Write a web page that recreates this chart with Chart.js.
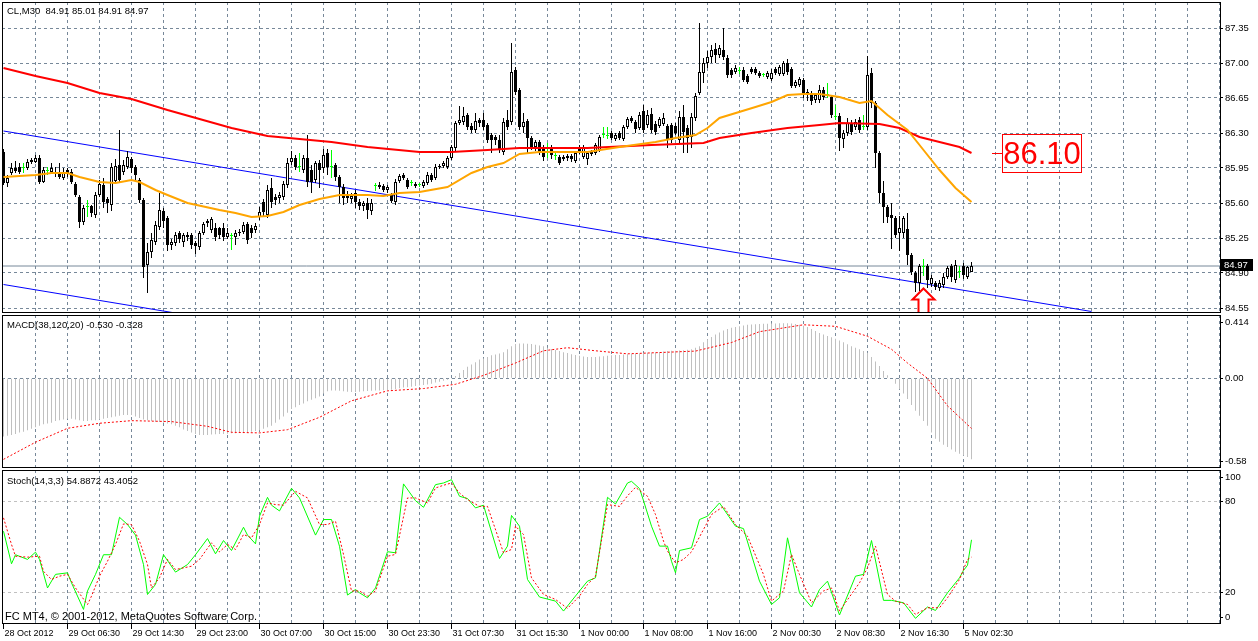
<!DOCTYPE html>
<html><head><meta charset="utf-8"><title>CL,M30</title>
<script src="https://cdn.jsdelivr.net/npm/chart.js@4.4.1/dist/chart.umd.min.js"></script>
<style>
html,body{margin:0;padding:0;background:#fff;}
#wrap{position:relative;width:1258px;height:641px;overflow:hidden;background:#fff;}
canvas{position:absolute;left:0;display:block;}
.lbl{position:absolute;left:7px;font-family:'Liberation Sans',Arial,sans-serif;font-size:9.5px;line-height:11px;color:#000;white-space:pre;z-index:2;}
</style></head><body>
<div id="wrap">
<canvas id="cMain" width="1258" height="313" style="top:0px"></canvas>
<canvas id="cMacd" width="1258" height="155" style="top:313px"></canvas>
<canvas id="cStoch" width="1258" height="173" style="top:468px"></canvas>
<div class="lbl" id="tMain" style="top:5px"></div>
<div class="lbl" id="tMacd" style="top:319px"></div>
<div class="lbl" id="tStoch" style="top:475px"></div>
<div class="lbl" id="tCopy" style="top:610px;left:5px;font-size:11px;line-height:13px"></div>
</div>
<script>
// ---------------- DATA (CL, M30) ----------------
const opens = [
86.11,85.80,85.90,85.95,85.96,85.95,85.95,86.01,86.01,86.05,
85.81,85.92,85.91,85.91,85.91,85.85,85.93,85.91,85.79,85.66,
85.41,85.56,85.57,85.48,85.68,85.78,85.64,85.58,85.82,85.98,
85.91,85.96,86.04,85.96,85.83,85.63,84.98,85.11,85.21,85.36,
85.52,85.45,85.18,85.20,85.30,85.21,85.28,85.28,85.20,85.16,
85.30,85.40,85.33,85.35,85.35,85.35,85.26,85.27,85.26,85.30,
85.31,85.39,85.35,85.33,85.46,85.61,85.48,85.75,85.66,85.65,
85.66,85.78,86.01,86.05,85.96,85.93,86.05,85.93,85.83,86.00,
85.95,86.10,85.96,85.98,85.86,85.76,85.68,85.64,85.70,85.61,
85.57,85.60,85.52,85.77,85.76,85.77,85.73,85.68,85.61,85.82,
85.88,85.83,85.80,85.79,85.78,85.77,85.80,85.88,85.85,85.96,
85.97,85.96,86.05,86.15,86.40,86.41,86.48,86.37,86.33,86.43,
86.43,86.38,86.28,86.26,86.23,86.11,86.43,86.41,86.93,86.73,
86.36,86.42,86.25,86.16,86.21,86.16,86.15,86.16,86.07,86.06,
86.04,86.07,86.07,86.02,86.16,86.06,86.04,86.09,86.10,86.13,
86.28,86.27,86.30,86.24,86.30,86.24,86.36,86.45,86.41,86.35,
86.52,86.38,86.49,86.39,86.37,86.39,86.37,86.38,86.37,86.23,
86.46,86.35,86.26,86.45,86.70,86.90,87.00,87.06,87.14,87.08,
87.13,87.05,86.93,86.91,86.92,86.93,86.87,86.94,86.94,86.90,
86.88,86.86,86.84,86.94,86.89,86.89,87.00,86.94,86.77,86.78,
86.83,86.71,86.68,86.63,86.63,86.73,86.68,86.66,86.46,86.47,
86.24,86.30,86.40,86.36,86.43,86.36,86.36,86.90,86.60,86.10,
85.70,85.56,85.48,85.45,85.30,85.30,85.34,85.08,84.90,84.80,
84.96,84.97,84.79,84.80,84.75,84.78,84.86,84.97,84.83,84.91,
84.97,84.86,84.91];
const highs = [
86.14,85.88,86.00,86.02,86.00,86.00,86.04,86.05,86.08,86.08,
85.96,85.96,86.00,85.96,86.00,85.95,85.95,85.94,85.81,85.68,
85.58,85.63,85.58,85.71,85.83,85.85,85.66,86.00,86.04,86.33,
86.03,86.12,86.06,85.98,85.85,85.65,85.20,85.30,85.42,85.70,
85.55,85.47,85.24,85.31,85.32,85.30,85.31,85.30,85.22,85.32,
85.41,85.44,85.46,85.40,85.36,85.40,85.35,85.30,85.33,85.34,
85.41,85.41,85.38,85.40,85.56,85.64,85.78,85.85,85.69,85.71,
85.82,86.05,86.12,86.08,86.10,86.08,86.28,85.98,86.02,86.03,
86.14,86.14,86.13,86.00,85.88,85.79,85.72,85.70,85.73,85.64,
85.62,85.65,85.64,85.80,85.81,85.79,85.78,85.70,85.84,85.89,
85.90,85.85,85.83,85.81,85.80,85.83,85.91,85.90,85.99,85.99,
86.02,86.07,86.18,86.42,86.57,86.56,86.50,86.40,86.50,86.45,
86.50,86.40,86.30,86.28,86.28,86.45,86.53,87.20,86.96,86.75,
86.50,86.44,86.27,86.23,86.23,86.18,86.20,86.18,86.10,86.08,
86.08,86.09,86.09,86.12,86.18,86.18,86.12,86.13,86.20,86.28,
86.36,86.36,86.32,86.30,86.32,86.38,86.46,86.47,86.43,86.51,
86.58,86.53,86.55,86.42,86.46,86.50,86.39,86.40,86.40,86.52,
86.58,86.38,86.50,86.70,87.40,87.05,87.12,87.18,87.20,87.18,
87.35,87.08,86.95,86.98,86.96,86.96,86.89,86.96,86.96,86.92,
86.90,86.92,86.94,86.96,86.98,87.02,87.04,86.96,86.83,86.86,
86.85,86.74,86.72,86.70,86.78,86.76,86.80,86.68,86.58,86.50,
86.33,86.45,86.43,86.44,86.46,86.48,87.07,86.95,86.62,86.12,
85.82,85.58,85.60,85.47,85.47,85.47,85.50,85.10,84.92,84.99,
85.04,84.99,84.88,84.82,84.83,84.90,84.97,84.99,85.03,84.97,
85.00,84.97,85.01];
const lows = [
85.78,85.76,85.88,85.90,85.89,85.90,85.93,85.99,86.00,85.79,
85.80,85.88,85.89,85.86,85.84,85.83,85.86,85.79,85.66,85.35,
85.38,85.46,85.46,85.45,85.66,85.55,85.50,85.52,85.80,85.80,
85.88,85.94,85.90,85.83,85.60,84.85,84.70,85.05,85.18,85.33,
85.35,85.12,85.13,85.17,85.20,85.16,85.22,85.14,85.09,85.13,
85.28,85.36,85.30,85.22,85.24,85.22,85.24,85.13,85.18,85.27,
85.29,85.19,85.25,85.30,85.43,85.46,85.45,85.55,85.58,85.60,
85.63,85.75,85.98,85.93,85.91,85.90,85.76,85.70,85.80,85.75,
85.90,85.88,85.85,85.82,85.60,85.58,85.60,85.60,85.55,85.53,
85.52,85.44,85.48,85.72,85.74,85.71,85.70,85.60,85.58,85.80,
85.83,85.74,85.77,85.75,85.76,85.75,85.78,85.81,85.83,85.94,
85.95,85.94,86.03,86.12,86.38,86.38,86.33,86.30,86.30,86.36,
86.33,86.20,86.10,86.18,86.10,86.08,86.33,86.38,86.68,86.33,
86.30,86.10,86.13,86.12,86.08,86.02,86.05,86.04,86.03,85.98,
86.02,86.02,86.01,86.00,86.09,86.04,85.98,86.07,86.08,86.11,
86.25,86.24,86.23,86.22,86.23,86.22,86.34,86.40,86.30,86.33,
86.30,86.35,86.30,86.28,86.35,86.37,86.15,86.20,86.28,86.20,
86.10,86.10,86.15,86.42,86.68,86.80,86.95,87.00,87.00,87.05,
87.03,86.85,86.85,86.89,86.89,86.81,86.79,86.89,86.88,86.85,
86.86,86.84,86.82,86.88,86.87,86.87,86.88,86.75,86.75,86.76,
86.65,86.62,86.58,86.60,86.60,86.63,86.65,86.45,86.43,86.12,
86.15,86.27,86.28,86.33,86.30,86.33,86.33,86.55,85.95,85.60,
85.40,85.40,85.14,85.25,85.12,85.25,84.98,84.88,84.71,84.72,
84.87,84.75,84.76,84.73,84.72,84.75,84.84,84.81,84.80,84.85,
84.84,84.84,84.91];
const closes = [
85.80,85.85,85.95,85.92,85.91,85.95,86.01,86.03,86.05,85.81,
85.93,85.92,85.95,85.90,85.86,85.91,85.90,85.81,85.68,85.41,
85.55,85.56,85.50,85.68,85.79,85.61,85.60,85.96,85.97,85.83,
85.98,86.06,85.95,85.88,85.63,84.96,85.11,85.23,85.38,85.53,
85.42,85.18,85.21,85.28,85.24,85.28,85.26,85.18,85.17,85.30,
85.39,85.42,85.44,85.26,85.28,85.26,85.30,85.27,85.30,85.31,
85.38,85.23,85.30,85.37,85.51,85.51,85.73,85.61,85.63,85.68,
85.79,86.00,86.05,85.96,85.96,86.05,85.81,85.81,86.00,85.93,
86.08,85.96,85.96,85.86,85.76,85.65,85.65,85.67,85.61,85.57,
85.60,85.53,85.60,85.77,85.78,85.73,85.76,85.62,85.81,85.87,
85.85,85.76,85.80,85.77,85.78,85.81,85.88,85.83,85.96,85.97,
86.00,86.05,86.16,86.40,86.43,86.47,86.36,86.33,86.42,86.40,
86.36,86.23,86.23,86.23,86.13,86.41,86.36,86.91,86.71,86.36,
86.41,86.25,86.16,86.21,86.11,86.06,86.15,86.08,86.07,86.00,
86.06,86.05,86.04,86.10,86.11,86.16,86.10,86.11,86.18,86.26,
86.28,86.27,86.25,86.28,86.25,86.36,86.44,86.42,86.34,86.48,
86.33,86.48,86.33,86.31,86.44,86.45,86.23,86.23,86.30,86.46,
86.31,86.25,86.46,86.67,86.91,87.00,87.06,87.13,87.08,87.15,
87.06,86.88,86.88,86.95,86.92,86.83,86.81,86.91,86.90,86.87,
86.88,86.90,86.90,86.90,86.96,87.00,86.91,86.77,86.81,86.84,
86.70,86.68,86.62,86.68,86.73,86.66,86.68,86.48,86.46,86.25,
86.30,86.40,86.31,86.41,86.33,86.36,86.88,86.60,86.10,85.70,
85.56,85.46,85.45,85.28,85.35,85.45,85.08,84.91,84.80,84.97,
84.96,84.83,84.85,84.76,84.80,84.86,84.95,84.86,84.98,84.91,
84.88,84.96,84.97];

// moving averages: [bar, price]
const maRed = [[0,86.95],[8,86.87],[16,86.80],[24,86.70],[32,86.64],[41,86.53],[49,86.44],[57,86.35],[66,86.27],[74,86.24],[82,86.21],[91,86.16],[104,86.11],[112,86.11],[121,86.13],[129,86.15],[146,86.15],[162,86.18],[175,86.20],[179,86.25],[187,86.30],[196,86.35],[204,86.38],[209,86.40],[219,86.39],[224,86.35],[229,86.26],[234,86.21],[239,86.16],[242,86.10]];
const maOrange = [[0,85.86],[8,85.88],[12,85.90],[16,85.90],[19,85.86],[24,85.81],[28,85.80],[32,85.83],[34,85.81],[38,85.73],[41,85.68],[46,85.60],[54,85.53],[58,85.50],[62,85.46],[66,85.47],[70,85.51],[74,85.58],[79,85.64],[84,85.68],[91,85.68],[95,85.67],[99,85.70],[104,85.71],[111,85.76],[117,85.90],[121,85.96],[125,86.00],[129,86.09],[134,86.11],[146,86.11],[154,86.16],[163,86.21],[168,86.25],[173,86.28],[176,86.35],[179,86.45],[188,86.56],[192,86.61],[196,86.68],[200,86.69],[204,86.69],[209,86.66],[214,86.60],[217,86.62],[221,86.48],[226,86.33],[230,86.13],[234,85.93],[238,85.75],[242,85.61]];
// channel trend lines: [bar, price]
const trendUpper = [[0,86.32],[272,84.515]];
const trendLower = [[0,84.785],[272,82.98]];

// MACD(38,120,20)
const macdHist = [
-0.38,-0.375,-0.37,-0.365,-0.355,-0.35,-0.34,-0.33,-0.32,-0.31,
-0.30,-0.295,-0.29,-0.28,-0.275,-0.27,-0.265,-0.265,-0.27,-0.275,
-0.28,-0.28,-0.275,-0.275,-0.27,-0.265,-0.26,-0.255,-0.25,-0.245,
-0.24,-0.24,-0.24,-0.25,-0.26,-0.27,-0.275,-0.28,-0.285,-0.285,
-0.29,-0.295,-0.30,-0.31,-0.32,-0.335,-0.345,-0.355,-0.365,-0.37,
-0.37,-0.37,-0.368,-0.366,-0.365,-0.364,-0.362,-0.36,-0.36,-0.358,
-0.357,-0.355,-0.35,-0.345,-0.34,-0.33,-0.32,-0.31,-0.29,-0.27,
-0.25,-0.225,-0.2,-0.19,-0.175,-0.165,-0.15,-0.14,-0.13,-0.119,
-0.1,-0.085,-0.08,-0.08,-0.082,-0.085,-0.088,-0.09,-0.09,-0.088,
-0.085,-0.083,-0.082,-0.08,-0.079,-0.078,-0.078,-0.075,-0.07,-0.065,
-0.06,-0.058,-0.055,-0.05,-0.047,-0.044,-0.04,-0.035,-0.028,-0.022,
-0.016,-0.01,-0.004,0.015,0.035,0.055,0.075,0.09,0.105,0.123,
0.13,0.14,0.15,0.155,0.162,0.17,0.19,0.21,0.225,0.228,
0.228,0.226,0.224,0.22,0.215,0.21,0.2,0.192,0.185,0.178,
0.17,0.165,0.158,0.152,0.147,0.143,0.14,0.14,0.14,0.142,
0.145,0.147,0.15,0.152,0.153,0.155,0.157,0.16,0.162,0.163,
0.165,0.167,0.168,0.17,0.172,0.175,0.178,0.18,0.18,0.182,
0.184,0.186,0.19,0.2,0.21,0.235,0.255,0.27,0.286,0.3,
0.312,0.322,0.33,0.336,0.341,0.346,0.35,0.352,0.354,0.355,
0.356,0.357,0.358,0.359,0.36,0.36,0.36,0.358,0.355,0.35,
0.344,0.335,0.322,0.31,0.297,0.287,0.277,0.268,0.258,0.247,
0.235,0.222,0.21,0.2,0.19,0.178,0.167,0.14,0.11,0.08,
0.047,0.02,0.0,-0.035,-0.071,-0.1,-0.136,-0.175,-0.212,-0.245,
-0.28,-0.31,-0.355,-0.396,-0.415,-0.435,-0.45,-0.465,-0.48,-0.494,
-0.505,-0.515,-0.530];
const macdSignal = [[0,-0.53],[8,-0.418],[16,-0.327],[24,-0.294],[32,-0.277],[42,-0.283],[51,-0.314],[57,-0.353],[64,-0.357],[71,-0.336],[79,-0.255],[87,-0.147],[96,-0.082],[105,-0.067],[113,-0.039],[120,0.019],[128,0.1],[135,0.18],[141,0.2],[148,0.18],[156,0.16],[173,0.178],[182,0.234],[189,0.305],[200,0.35],[208,0.34],[216,0.275],[222,0.19],[226,0.1],[231,0],[236,-0.18],[242,-0.328]];

// Stochastic(14,3,3): [bar, value]
const stochMain = [[0,60.6],[2,39],[3,45],[6,41.9],[8,46.7],[9,41.9],[11,23],[13,32],[16,33],[17,26.4],[20,8.8],[21,21],[23,32],[25,45],[27,45],[29,69.8],[31,65],[33,58],[35,38.5],[36,18.7],[38,25.3],[40,45],[43,33.5],[46,38.5],[48,45],[51,55.7],[53,45.6],[55,54.4],[57,47.8],[60,63.2],[61,58],[63,52.2],[64,70.5],[66,83],[67,77.8],[69,74],[72,89],[74,82.6],[78,58],[80,68.3],[82,68.3],[84,50.6],[86,18.3],[88,22],[89,19.8],[91,16.5],[93,23],[96,47],[98,46.3],[100,91.9],[103,80.8],[105,76.4],[108,91.4],[110,92.5],[112,94.7],[114,83.7],[116,82.2],[118,76],[120,77.8],[124,42.5],[126,50.7],[127,71],[129,63.9],[131,28.6],[134,17],[138,14.3],[140,7.7],[144,21],[146,27.5],[148,29.7],[151,83],[153,78.6],[156,92.5],[157,93.6],[159,88.8],[160,80.8],[162,63.9],[164,50.7],[166,50.7],[167,40.7],[168,33],[169,47.8],[172,49.6],[174,68.3],[176,70.5],[179,79.3],[183,63.9],[185,62.3],[189,27.5],[192,12.1],[194,16.5],[196,56.2],[199,19.8],[202,10.4],[204,22],[206,27.5],[209,5.1],[213,30.8],[215,32],[217,54.4],[220,14.8],[222,14.8],[225,13.2],[228,2.9],[231,10.4],[233,8.1],[236,19.8],[239,29.7],[240,34.6],[241,38],[242,54.8872]];
const stochSignal = [[0,69.4],[2,51.8],[3,44],[6,43.4],[9,44],[10,34],[12,28.6],[14,30.8],[16,32],[18,23],[21,12],[22,17.6],[24,30.8],[26,40.7],[28,51.8],[30,65.4],[32,65],[34,54],[36,38.5],[37,23],[39,29.7],[41,41.9],[43,35.2],[47,37.4],[49,41.9],[52,52.9],[54,46.9],[56,51.8],[58,48.5],[60,58.4],[62,56.2],[64,65],[66,79.3],[68,78.2],[70,77.8],[73,87],[76,82.6],[79,65],[81,65],[83,67.2],[85,45.2],[87,21],[89,21],[91,17.6],[93,21],[96,44],[98,45.2],[101,82.6],[103,82.6],[106,79.3],[108,89.2],[110,91],[112,92.5],[114,85.9],[116,81.5],[119,77],[121,77],[125,46.3],[127,48.5],[128,63.9],[130,58.4],[132,29.7],[135,18.7],[138,15.4],[141,9.5],[144,17.6],[146,25.3],[148,30.8],[151,78.2],[154,77],[156,84],[158,89.6],[161,83.7],[163,71.6],[165,54],[166,47.4],[168,39.6],[170,41.9],[172,46.9],[175,61.7],[177,71.6],[180,77],[183,65],[186,57.3],[190,31.9],[192,14.3],[195,21],[197,45.2],[199,31.9],[202,13.2],[205,21],[207,23],[209,7.7],[214,26.4],[216,36.3],[218,50.7],[221,18.7],[223,14.3],[226,12.1],[228,5.5],[231,9.9],[234,9.9],[236,16.5],[239,28.6],[241,41.9],[242,43.4052]];

// axis ticks and time labels
const priceTicks = [84.55,84.90,85.25,85.60,85.95,86.30,86.65,87.00,87.35];
const timeLabelBars = [0,16,32,48,64,80,96,112,128,144,160,176,192,208,224,240];
const timeLabels = ['28 Oct 2012','29 Oct 06:30','29 Oct 14:30','29 Oct 23:00','30 Oct 07:00','30 Oct 15:00','30 Oct 23:30','31 Oct 07:30','31 Oct 15:30','1 Nov 00:00','1 Nov 08:00','1 Nov 16:00','2 Nov 00:30','2 Nov 08:30','2 Nov 16:30','5 Nov 02:30'];
// annotations
const signalBar = 230, signalPrice = 84.745;      // up arrow
const noteBar = 247.1, notePrice = 86.10;         // price label

// ---------------- RENDERING ----------------
Chart.defaults.font.family = "'Liberation Sans', Arial, sans-serif";
Chart.defaults.color = '#000';
const GRID = '#778899', DASH = [3,3], NONE = 'rgba(0,0,0,0)', DOJI = '#00ff00';
const X_MIN = -0.375, X_MAX = 304.125;
const n = closes.length - 1;
const bars = closes.map((_, i) => i);
const gridBars = []; for (let v = 0; v <= 304; v += 8) gridBars.push(v);
const labelAt = {}; timeLabelBars.forEach((b, k) => labelAt[b] = timeLabels[k]);
const pts = a => a.map(([x, y]) => ({x, y}));

function xAxis(withLabels) {
  return {
    type: 'linear', min: X_MIN, max: X_MAX, offset: false, bounds: 'data',
    afterBuildTicks: s => { s.ticks = gridBars.map(v => ({value: v})); },
    grid: { offset: false, drawOnChartArea: true, lineWidth: 1,
      color: c => (c.tick && c.tick.value === 0) ? NONE : GRID,
      drawTicks: withLabels, tickLength: 6, tickWidth: 1, tickBorderDash: [],
      tickColor: c => (c.tick && labelAt[c.tick.value] !== undefined) ? '#000' : NONE },
    border: { display: false, dash: DASH },
    ticks: { display: withLabels, autoSkip: false, maxRotation: 0, minRotation: 0, align: 'start',
      padding: -1, labelOffset: 1,
      font: { size: 9, family: "'Liberation Sans Narrow', 'Liberation Sans', Arial, sans-serif" }, color: '#000',
      callback: v => labelAt[v] !== undefined ? labelAt[v] : '' },
    afterFit: s => { s.height = withLabels ? 18 : 0; s.paddingLeft = 0; s.paddingRight = 0; }
  };
}
function yAxis(min, max, vals, texts, gridColor) {
  return {
    type: 'linear', position: 'right', min, max, bounds: 'data',
    afterBuildTicks: s => { s.ticks = vals.map(v => ({value: v})); },
    grid: { drawOnChartArea: true, lineWidth: 1, color: c => c.tick ? gridColor(c.index) : NONE,
      drawTicks: true, tickLength: 3, tickWidth: 1, tickColor: '#000', tickBorderDash: [] },
    border: { display: false, dash: DASH },
    ticks: { autoSkip: false, padding: 2, font: { size: 9.5 }, color: '#000', callback: (v, i) => texts[i] },
    afterFit: s => { s.width = 38; s.paddingTop = 0; s.paddingBottom = 0; }
  };
}
function opts(x, y, padBottom) {
  return {
    responsive: false, animation: false, devicePixelRatio: 1, events: [],
    layout: { padding: { left: 2, right: 0, top: 2, bottom: padBottom } },
    plugins: { legend: { display: false }, tooltip: { enabled: false }, title: { display: false } },
    elements: { line: { tension: 0 }, point: { radius: 0 } },
    scales: { x, y }
  };
}
const frame = { id: 'frame', afterDraw(ch) {
  const {ctx, chartArea: a} = ch; ctx.save(); ctx.setLineDash([]); ctx.strokeStyle = '#000'; ctx.lineWidth = 1;
  ctx.strokeRect(a.left + 0.5, a.top + 0.5, a.right - a.left, a.bottom - a.top); ctx.restore(); } };

const bidPrice = closes[n];
const mainOverlay = { id: 'mainOverlay',
  afterDatasetsDraw(ch) {
    const {ctx, chartArea: a, scales: {x, y}} = ch;
    ctx.save();
    ctx.beginPath(); ctx.rect(a.left, a.top, a.right - a.left, a.bottom - a.top); ctx.clip();
    const ax = x.getPixelForValue(signalBar), ay = y.getPixelForValue(signalPrice);
    ctx.beginPath();
    ctx.moveTo(ax, ay); ctx.lineTo(ax + 11, ay + 11); ctx.lineTo(ax + 5, ay + 11); ctx.lineTo(ax + 5, ay + 40);
    ctx.lineTo(ax - 5, ay + 40); ctx.lineTo(ax - 5, ay + 11); ctx.lineTo(ax - 11, ay + 11); ctx.closePath();
    ctx.fillStyle = '#fff'; ctx.fill(); ctx.strokeStyle = '#ff0000'; ctx.lineWidth = 2; ctx.stroke();
    const lx = Math.round(x.getPixelForValue(noteBar)), ly = Math.round(y.getPixelForValue(notePrice)) + 0.5;
    ctx.lineWidth = 1;
    ctx.beginPath(); ctx.moveTo(lx, ly); ctx.lineTo(lx + 10, ly); ctx.stroke();
    ctx.strokeRect(lx + 10.5, ly - 19, 79, 38);
    ctx.fillStyle = '#ff0000'; ctx.font = "31px 'Liberation Sans', Arial, sans-serif";
    ctx.textAlign = 'center'; ctx.textBaseline = 'middle';
    ctx.fillText(notePrice.toFixed(2), lx + 50, ly + 1.5);
    ctx.restore();
  },
  afterDraw(ch) {
    const {ctx, chartArea: a, scales: {y}} = ch;
    const by = Math.round(y.getPixelForValue(bidPrice));
    ctx.save(); ctx.fillStyle = '#000'; ctx.fillRect(a.right + 1, by - 7, 32, 12);
    ctx.fillStyle = '#fff'; ctx.font = "9.5px 'Liberation Sans', Arial, sans-serif";
    ctx.textAlign = 'left'; ctx.textBaseline = 'middle'; ctx.fillText(bidPrice.toFixed(2), a.right + 4, by - 0.5);
    ctx.restore();
  } };

const isDoji = i => opens[i] === closes[i];
new Chart(document.getElementById('cMain'), {
  type: 'bar',
  data: { datasets: [
    { type: 'line', data: [{x: X_MIN, y: bidPrice}, {x: X_MAX, y: bidPrice}], borderColor: GRID, borderWidth: 1, pointRadius: 0, order: 30 },
    { type: 'line', data: pts(trendUpper), borderColor: '#0000ff', borderWidth: 1, pointRadius: 0, order: 25 },
    { type: 'line', data: pts(trendLower), borderColor: '#0000ff', borderWidth: 1, pointRadius: 0, order: 24 },
    { type: 'bar', data: bars.map(i => ({x: i, y: [lows[i], highs[i]]})), barThickness: 1, grouped: false, inflateAmount: 0,
      borderWidth: 0, backgroundColor: c => (c.dataIndex !== undefined && isDoji(c.dataIndex)) ? DOJI : '#000', order: 20 },
    { type: 'bar', data: bars.map(i => ({x: i, y: [opens[i], closes[i]]})), barThickness: 3, grouped: false, inflateAmount: 0,
      borderWidth: 1, borderSkipped: false, minBarLength: 1,
      borderColor: c => (c.dataIndex !== undefined && isDoji(c.dataIndex)) ? DOJI : '#000',
      backgroundColor: c => { const i = c.dataIndex; if (i === undefined) return '#000';
        return opens[i] > closes[i] ? '#000' : (opens[i] < closes[i] ? '#fff' : DOJI); }, order: 19 },
    { type: 'line', data: pts(maRed), borderColor: '#ff0000', borderWidth: 2, pointRadius: 0, order: 2 },
    { type: 'line', data: pts(maOrange), borderColor: '#ffa500', borderWidth: 2, pointRadius: 0, order: 1 }
  ] },
  options: opts(xAxis(false), yAxis(84.51, 87.61, priceTicks, priceTicks.map(v => v.toFixed(2)), () => GRID), 1),
  plugins: [mainOverlay, frame]
});

const macdMin = -0.58, macdMax = 0.414, macdPx = 152;
const mU = (macdMax - macdMin) / macdPx;
new Chart(document.getElementById('cMacd'), {
  type: 'bar',
  data: { datasets: [
    { type: 'bar', data: bars.map(i => ({x: i, y: macdHist[i]})), barThickness: 1, grouped: false, inflateAmount: 0,
      borderWidth: 0, backgroundColor: '#c0c0c0', order: 2 },
    { type: 'line', data: pts(macdSignal), borderColor: '#ff0000', borderWidth: 1, borderDash: [2, 2], pointRadius: 0, order: 1 }
  ] },
  options: opts(xAxis(false), yAxis(macdMin, macdMax, [macdMin + 6 * mU, 0, macdMax - 7 * mU],
    [macdMin.toFixed(2), '0.00', String(macdMax)], i => i === 1 ? GRID : NONE), 1),
  plugins: [frame]
});

const stMin = -0.2, stMax = 101.1, stPx = 153;
const sU = (stMax - stMin) / stPx;
new Chart(document.getElementById('cStoch'), {
  type: 'line',
  data: { datasets: [
    { data: pts(stochSignal), borderColor: '#ff0000', borderWidth: 1, borderDash: [2, 2], pointRadius: 0, order: 1 },
    { data: pts(stochMain), borderColor: '#00ff00', borderWidth: 1, pointRadius: 0, order: 2 }
  ] },
  options: opts(xAxis(true), yAxis(stMin, stMax, [stMin + 5.3 * sU, 20, 80, stMax - 7.3 * sU],
    ['0', '20', '80', '100'], i => (i === 1 || i === 2) ? '#c0c0c0' : NONE), 0),
  plugins: [frame]
});

document.getElementById('tMain').textContent = 'CL,M30  ' + [opens[n], highs[n], lows[n], closes[n]].map(v => v.toFixed(2)).join(' ');
document.getElementById('tMacd').textContent = 'MACD(38,120,20) ' + macdHist[n].toFixed(3) + ' ' + macdSignal[macdSignal.length - 1][1].toFixed(3);
document.getElementById('tStoch').textContent = 'Stoch(14,3,3) ' + stochMain[stochMain.length - 1][1].toFixed(4) + ' ' + stochSignal[stochSignal.length - 1][1].toFixed(4);
document.getElementById('tCopy').textContent = 'FC MT4, \u00a9 2001-2012, MetaQuotes Software Corp.';
</script></body></html>
